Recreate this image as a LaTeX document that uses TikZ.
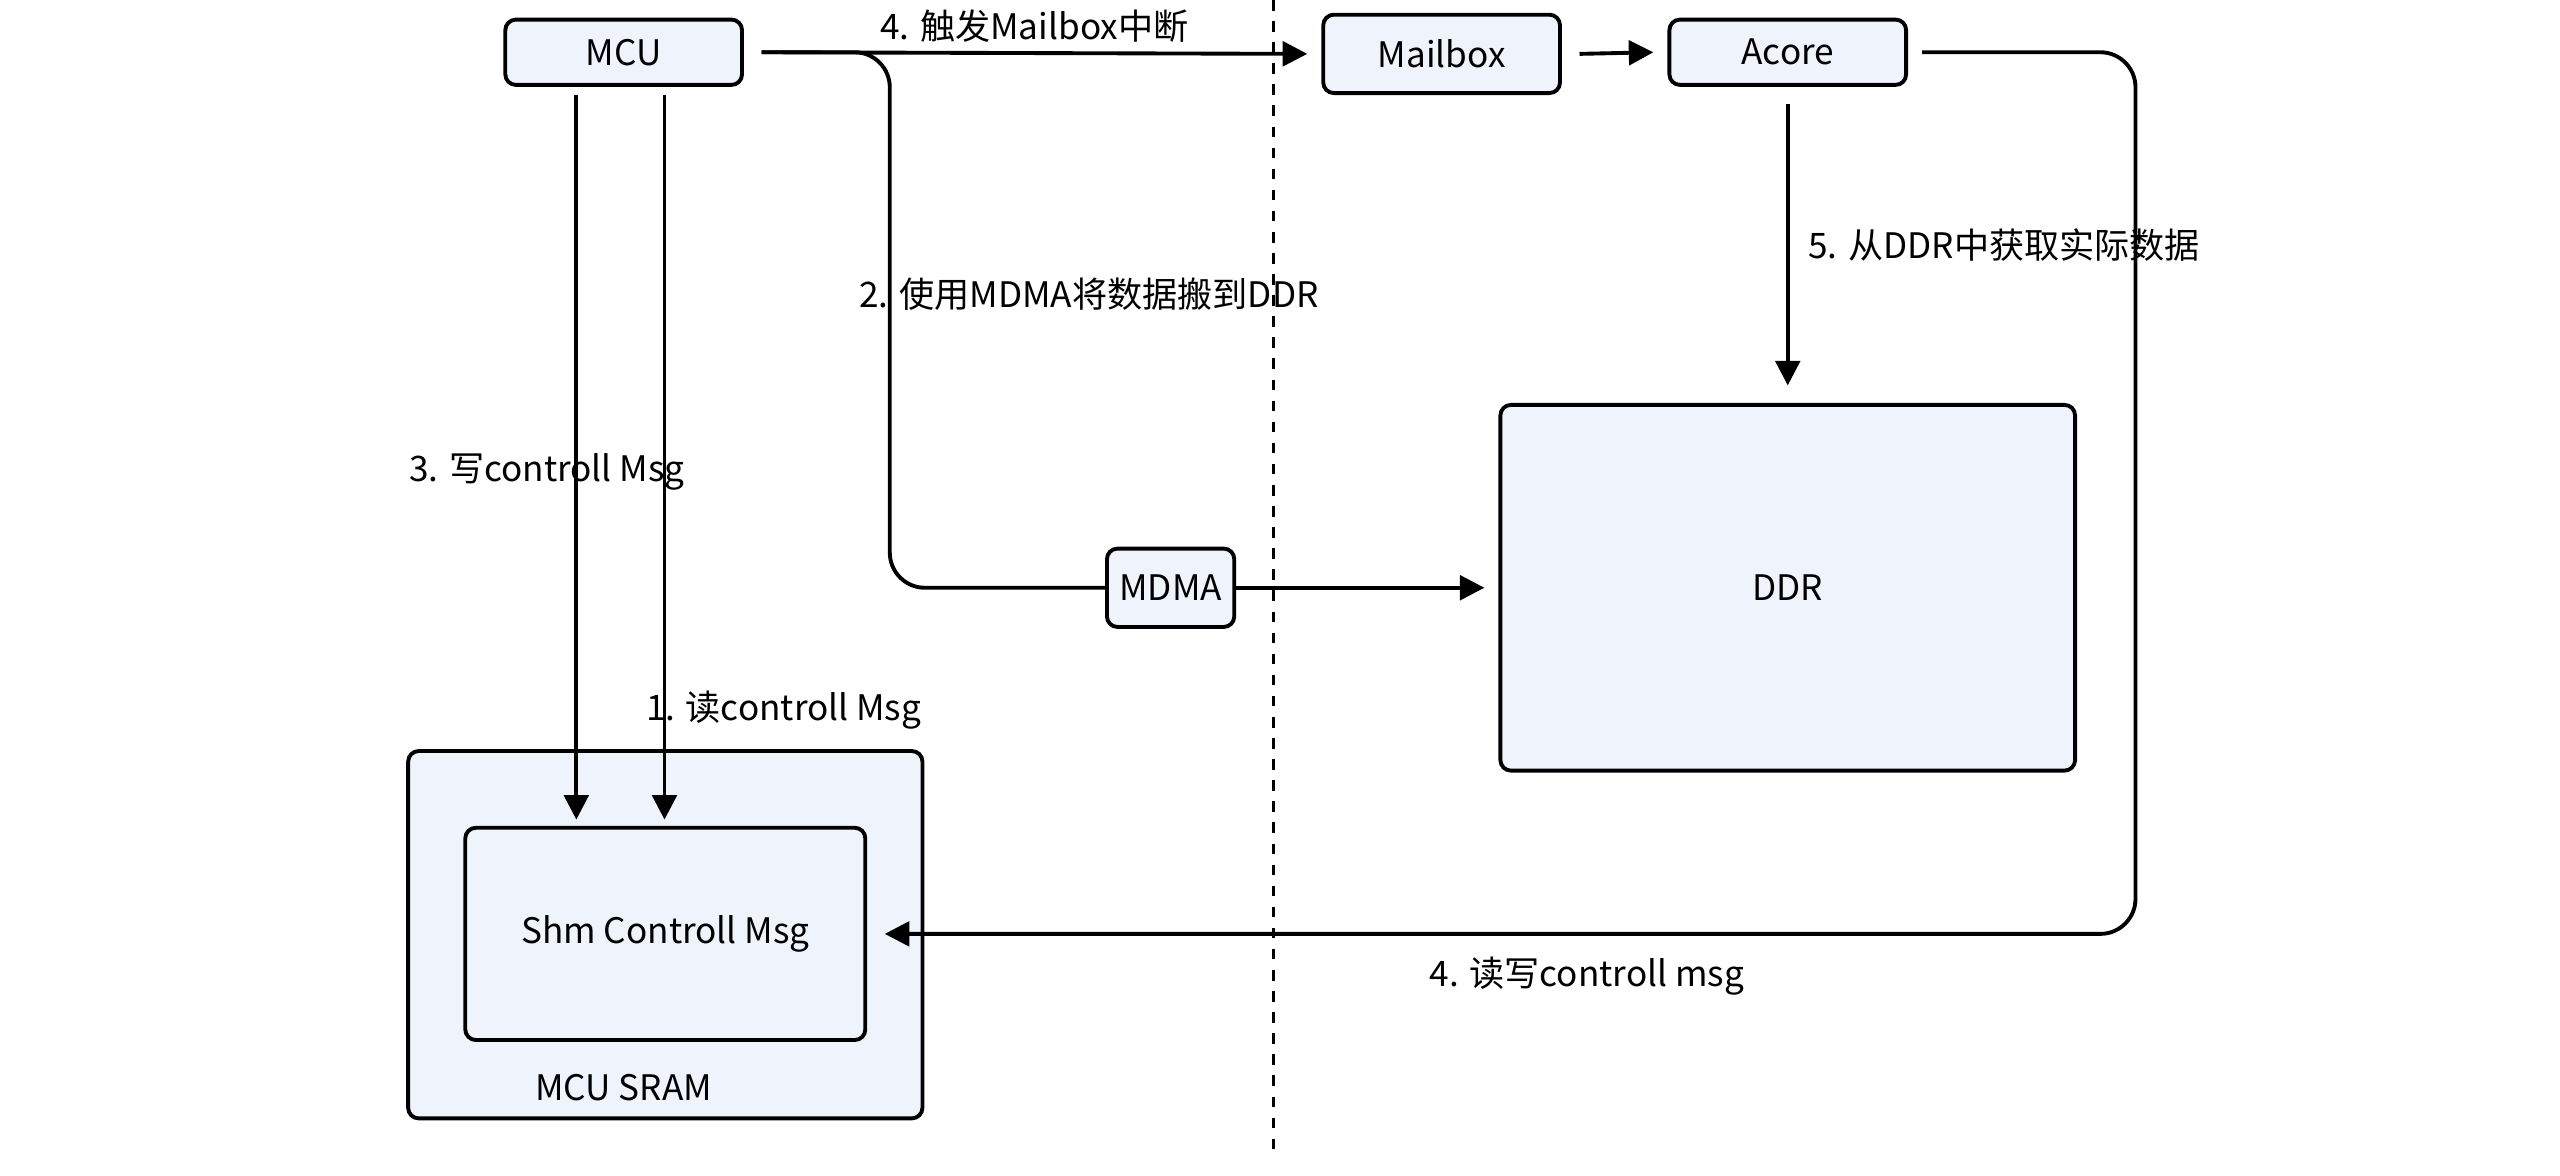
\documentclass[tikz,border=0pt]{standalone}
\usepackage{fontspec}
\setmainfont{Noto Sans CJK SC}
\usetikzlibrary{arrows.meta,positioning}
\definecolor{boxfill}{HTML}{EEF3FC}
\begin{document}
\begin{tikzpicture}[
        x=0.016327cm, y=-0.016327cm,
        font=\fontsize{10}{12}\selectfont,
        box/.style={draw, line width=1.1pt, rounded corners=3pt, fill=boxfill, inner sep=0pt},
        arrow/.style={-{Triangle[length=7pt,width=7pt]}, line width=1.1pt},
        link/.style={line width=1.1pt, rounded corners=10pt}
    ]
        \useasboundingbox (0,0) rectangle (1568,720);

        % Divider
        \draw[line width=1.1pt, dash pattern=on 3pt off 3pt] (780,0) -- (780,705);

        % Blocks
        \node[box, minimum width=145*0.016327cm, minimum height=40*0.016327cm] (mcu) at (382,32) {MCU};
        \node[box, minimum width=145*0.016327cm, minimum height=48*0.016327cm] (mailbox) at (883,33) {Mailbox};
        \node[box, minimum width=145*0.016327cm, minimum height=40*0.016327cm] (acore) at (1095,32) {Acore};
        \node[box, minimum width=352*0.016327cm, minimum height=224*0.016327cm] (ddr) at (1095,360) {DDR};
        \node[box, minimum width=78*0.016327cm, minimum height=48*0.016327cm] (mdma) at (717,360) {MDMA};
        \node[box, minimum width=315*0.016327cm, minimum height=225*0.016327cm] (sram) at (407.5,572.5) {};
        \node[box, minimum width=245*0.016327cm, minimum height=130*0.016327cm] (shm) at (407.5,572) {Shm Controll Msg};
        \node (sramlbl) at (382,666) {MCU SRAM};

        % Helper points
        \coordinate (bend) at (1308,32);
        \coordinate (wr) at (353,58);
        \coordinate (rd) at (407,58);

        % Arrows
        \draw[arrow] ([xshift=5pt]mcu.east) -- ([xshift=-4pt]mailbox.west)
            node[midway, above=-1pt] {4. 触发Mailbox中断};
        \draw[link] ([xshift=5pt]mcu.east) -| (545,360) -- (mdma.west);
        \node at (667,180) {2. 使用MDMA将数据搬到DDR};
        \draw[arrow] (mdma.east) -- ([xshift=-4pt]ddr.west);
        \draw[arrow] ([xshift=5pt]mailbox.east) -- ([xshift=-4pt]acore.west);
        \draw[arrow] ([yshift=-5pt]acore.south) -- ([yshift=5pt]ddr.north)
            node[midway, right=2pt] {5. 从DDR中获取实际数据};
        \draw[arrow, rounded corners=10pt] ([xshift=4pt]acore.east) -- (bend) |- ([xshift=5pt]shm.east);
        \node at (972,598) {4. 读写controll msg};
        \draw[arrow] (wr) -- (353,502);
        \draw[arrow] (rd) -- (407,502);
        \node at (335,289) {3. 写controll Msg};
        \node at (480,435) {1. 读controll Msg};
\end{tikzpicture}
\end{document}
